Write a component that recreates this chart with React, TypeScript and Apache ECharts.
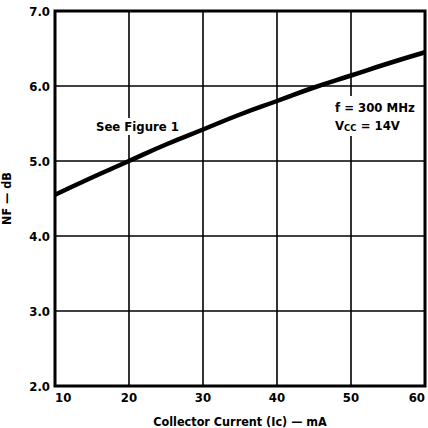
import React, { useEffect, useRef } from "react";
import * as echarts from "echarts";

const currentMA = [10, 15, 20, 25, 30, 35, 40, 45, 50, 55, 60];
const noiseFigureDB = [4.55, 4.78, 5.0, 5.22, 5.42, 5.62, 5.8, 5.98, 6.14, 6.3, 6.45];
const FONT = "'DejaVu Sans Condensed', 'Liberation Sans Narrow', Arial, sans-serif";

export default function App() {
  const ref = useRef<HTMLDivElement>(null);
  useEffect(() => {
    if (!ref.current) return;
    const chart = echarts.init(ref.current, undefined, { renderer: "svg" });
    chart.setOption({
      animation: false,
      backgroundColor: "#fff",
      grid: {
        left: 55,
        right: 3,
        top: 11,
        bottom: 42,
        outerBoundsMode: "none",
        containLabel: false,
        show: true,
        borderColor: "#000",
        borderWidth: 3,
      },
      xAxis: {
        type: "value",
        min: 10,
        max: 60,
        interval: 10,
        axisLine: { show: false },
        axisTick: { show: false },
        splitLine: { show: true, lineStyle: { color: "#000", width: 1.6 } },
        axisLabel: {
          color: "#000",
          fontFamily: FONT,
          fontWeight: "bold",
          fontSize: 13,
          margin: 5,
          showMaxLabel: true,
          alignMinLabel: "left",
          alignMaxLabel: "right",
        },
        name: "Collector Current (Ic) — mA",
        nameLocation: "middle",
        nameGap: 29,
        nameTextStyle: { color: "#000", fontFamily: FONT, fontWeight: "bold", fontSize: 12.5 },
      },
      yAxis: {
        type: "value",
        min: 2,
        max: 7,
        interval: 1,
        axisLine: { show: false },
        axisTick: { show: false },
        splitLine: { show: true, lineStyle: { color: "#000", width: 1.6 } },
        axisLabel: {
          color: "#000",
          fontFamily: FONT,
          fontWeight: "bold",
          fontSize: 13,
          margin: 5,
          formatter: (v: number) => v.toFixed(1),
        },
        name: "NF — dB",
        nameLocation: "middle",
        nameGap: 42,
        nameTextStyle: { color: "#000", fontFamily: FONT, fontWeight: "bold", fontSize: 12.5 },
      },
      graphic: [
        {
          type: "text",
          left: 96,
          top: 118,
          z: 10,
          style: {
            text: "See Figure 1",
            fill: "#000",
            font: `bold 13px ${FONT}`,
            backgroundColor: "#fff",
            padding: [2, 0, 2, 0],
          },
        },
        {
          type: "text",
          left: 333,
          top: 96,
          z: 10,
          style: {
            text: "f = 300 MHz\n{v|V}{s|CC}{v| = 14V}",
            fill: "#000",
            font: `bold 13px ${FONT}`,
            lineHeight: 18,
            backgroundColor: "#fff",
            padding: [2, 2, 2, 2],
            rich: {
              v: { fontFamily: FONT, fontWeight: "bold", fontSize: 13, fill: "#000", lineHeight: 18 },
              s: {
                fontFamily: FONT,
                fontWeight: "bold",
                fontSize: 9.5,
                fill: "#000",
                lineHeight: 10,
                verticalAlign: "bottom",
                padding: [0, 0, 2, 0],
              },
            },
          },
        },
      ],
      series: [
        {
          type: "line",
          data: currentMA.map((x, i) => [x, noiseFigureDB[i]]),
          smooth: true,
          showSymbol: false,
          lineStyle: { color: "#000", width: 4.5 },
        },
      ],
    });
    return () => chart.dispose();
  }, []);
  return <div ref={ref} style={{ width: 428, height: 428, position: "absolute", left: 0, top: 0 }} />;
}
